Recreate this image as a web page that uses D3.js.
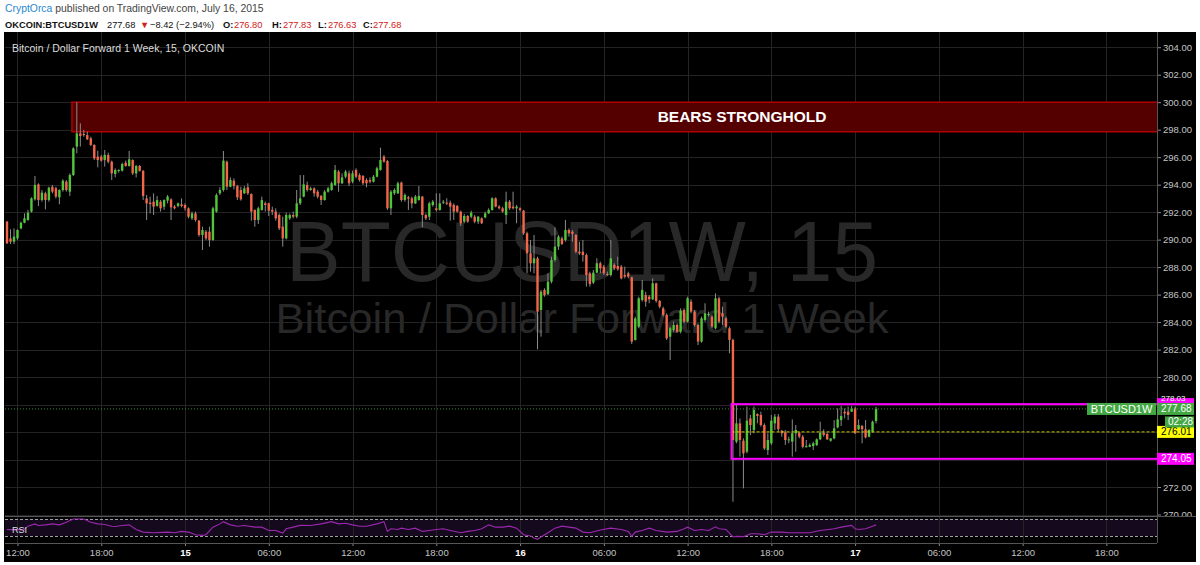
<!DOCTYPE html>
<html>
<head>
<meta charset="utf-8">
<title>BTCUSD1W, 15</title>
<script src="https://cdn.jsdelivr.net/npm/d3@7/dist/d3.min.js"></script>
<style>
  body { margin: 0; background: #fff; }
  svg { display: block; }
</style>
</head>
<body>
<script>
// 15 minute bars, bar 0 = Jul 14 12:00, first bar in the list is bar -3 (11:15)
var firstBar = -3;
// [open, high, low, close]
var candles = [
  [291.31,291.36,289.68,289.73],[290.09,290.75,289.68,289.85],[289.85,290.82,289.68,290.22],[290.09,290.75,289.97,290.70],[290.82,291.31,290.75,291.23],
  [291.23,291.91,291.19,291.55],[291.43,292.16,291.38,291.96],[292.04,293.08,291.96,293.00],[292.93,294.63,292.84,293.98],[294.02,294.10,292.45,292.88],
  [292.88,293.61,292.76,293.42],[293.37,293.49,292.20,292.88],[292.88,293.85,292.76,293.78],[293.85,293.98,293.37,293.49],[293.73,293.85,293.00,293.13],
  [293.08,293.66,292.57,293.61],[293.61,294.39,293.49,294.29],[294.22,294.34,293.49,293.61],[293.49,294.82,293.18,294.70],[294.70,296.72,294.63,296.64],
  [296.77,300.00,296.28,297.73],[297.73,298.46,296.77,297.54],[297.69,297.98,297.49,297.61],[297.61,297.86,297.25,297.30],[297.37,297.49,296.81,296.89],
  [296.89,296.94,295.79,295.91],[296.04,296.47,295.26,295.79],[296.04,296.16,295.67,295.75],[295.79,296.52,295.31,296.16],[296.16,296.33,295.55,295.67],
  [295.67,295.75,294.34,294.82],[294.78,295.19,294.53,295.07],[295.02,295.12,294.87,295.07],[295.02,295.60,294.95,295.50],[295.60,295.75,295.31,295.36],
  [295.36,296.45,295.31,295.84],[295.79,295.84,294.70,294.82],[294.82,295.43,294.53,295.36],[295.36,295.43,294.95,295.00],[295.00,295.07,292.88,293.18],
  [293.00,293.25,291.43,292.64],[292.69,293.13,291.91,292.59],[292.76,293.37,291.79,292.40],[292.45,293.18,292.40,292.88],[292.76,292.88,292.04,292.28],
  [292.40,292.93,292.16,292.88],[292.84,293.25,292.64,293.13],[292.93,293.00,291.43,292.35],[292.40,292.52,292.20,292.28],[292.45,292.69,292.35,292.64],
  [292.57,293.00,292.35,292.45],[292.52,292.64,292.11,292.28],[292.28,292.35,291.55,291.67],[291.55,292.04,291.43,291.91],[291.91,292.04,291.31,291.43],
  [291.38,291.43,290.22,290.34],[290.34,290.94,289.25,290.70],[290.58,290.70,289.97,290.09],[290.58,290.94,289.49,289.97],[289.97,292.40,289.92,292.28],
  [292.04,293.37,291.96,293.25],[293.37,293.81,293.25,293.61],[293.61,296.45,293.49,295.75],[295.67,295.75,293.61,293.85],[293.85,294.53,293.81,294.34],
  [294.29,294.46,293.66,293.90],[293.90,293.98,292.88,293.08],[293.61,293.85,292.84,292.93],[293.37,293.90,293.32,293.73],[293.81,294.10,293.25,293.37],
  [293.32,293.37,291.38,292.04],[292.16,292.20,290.94,291.43],[291.43,292.40,291.14,292.28],[292.16,293.13,292.11,292.88],[292.64,292.76,292.04,292.52],
  [292.64,292.69,291.72,292.11],[292.16,292.40,291.79,292.04],[292.04,292.28,291.38,291.55],[291.79,291.91,290.70,290.82],[290.94,291.67,289.49,290.09],
  [290.09,291.96,290.02,291.79],[291.55,291.91,291.43,291.79],[291.79,292.04,291.55,291.67],[291.67,293.61,291.55,292.64],[292.64,294.70,292.52,293.00],
  [293.13,294.70,293.08,294.02],[293.98,294.22,293.49,293.61],[293.61,293.85,293.56,293.73],[293.73,293.81,293.13,293.37],[293.49,293.61,293.00,293.13],
  [293.18,293.25,292.52,292.88],[292.88,293.61,292.84,293.49],[293.49,293.85,293.42,293.73],[293.61,294.22,293.56,294.10],[293.98,295.43,293.90,295.07],
  [294.95,295.07,293.49,294.10],[294.10,294.82,294.05,294.53],[294.58,295.07,294.46,294.95],[294.82,295.02,293.90,294.10],[294.22,295.02,294.10,294.82],
  [295.07,295.19,294.46,294.58],[294.70,294.82,294.22,294.34],[294.63,294.70,293.98,294.10],[294.34,294.46,293.81,294.10],[294.34,294.53,294.10,294.22],
  [294.22,294.70,294.15,294.58],[294.58,295.31,294.53,295.19],[295.07,296.69,295.02,295.79],[296.04,296.16,295.60,295.67],[295.72,295.79,292.16,292.28],
  [292.28,293.61,291.79,293.49],[293.37,293.73,293.25,293.61],[293.37,294.22,293.32,294.10],[294.15,294.22,292.76,292.88],[292.88,293.37,292.76,293.25],
  [293.08,293.18,292.16,292.98],[293.01,293.13,292.28,292.64],[292.64,293.25,292.59,293.13],[292.88,293.90,292.84,293.18],[293.13,293.18,290.90,291.79],
  [291.79,291.91,291.43,291.55],[291.67,292.76,291.43,292.64],[292.52,292.88,292.40,292.76],[292.28,293.37,292.04,292.16],[292.16,293.37,292.11,292.64],
  [292.69,292.88,292.59,292.76],[292.69,293.01,292.52,292.64],[292.69,292.84,291.38,292.40],[292.52,292.64,291.43,292.04],[292.45,292.52,291.96,292.04],
  [292.04,292.11,290.99,291.19],[291.31,291.87,291.19,291.72],[291.72,291.79,291.23,291.31],[291.67,292.11,291.55,291.96],[291.67,291.79,291.19,291.31],
  [291.31,291.72,291.14,291.67],[291.55,291.62,291.14,291.19],[291.62,292.04,291.55,291.91],[291.91,292.28,291.87,292.16],[292.16,293.08,292.11,293.01],
  [293.01,293.08,292.35,292.40],[292.40,292.52,292.20,292.28],[292.28,292.40,291.96,292.04],[291.79,293.49,291.14,292.76],[292.76,292.88,292.16,292.28],
  [292.40,293.49,292.20,292.28],[292.28,292.52,291.19,292.40],[292.28,292.35,292.04,292.16],[292.11,292.16,290.34,290.46],[290.46,290.58,287.55,289.00],
  [289.00,289.97,287.67,288.28],[288.28,290.34,287.55,288.64],[288.64,288.76,282.02,284.76],[284.88,286.34,282.94,286.21],[286.34,286.46,285.85,285.97],
  [286.04,287.55,285.97,286.94],[286.94,288.76,286.82,288.52],[288.52,290.90,288.40,289.49],[289.49,290.34,289.25,290.22],[290.09,290.22,289.61,289.68],
  [289.97,291.43,289.85,290.70],[290.70,290.82,290.22,290.46],[290.58,290.70,289.85,290.41],[290.34,290.41,289.00,289.12],[289.12,289.85,288.88,289.00],
  [289.12,289.97,288.40,288.88],[288.88,289.00,286.58,287.43],[287.55,287.67,286.58,286.77],[286.87,287.79,286.77,287.60],[287.60,288.64,287.55,288.28],
  [288.28,288.40,287.55,287.91],[288.03,288.16,287.43,287.55],[287.50,287.67,287.35,287.45],[287.43,289.97,287.31,288.64],[288.16,288.28,287.79,287.91],
  [288.08,288.76,287.74,287.84],[288.03,288.16,287.11,287.18],[287.43,288.03,287.18,287.31],[287.55,287.67,287.18,287.31],[287.26,287.31,282.41,282.58],
  [282.70,284.40,282.65,284.27],[283.67,285.85,283.55,285.73],[285.61,287.06,285.49,286.34],[285.97,286.21,285.12,285.49],[285.85,285.97,285.37,285.66],
  [285.66,287.18,285.61,286.82],[286.82,286.87,285.41,285.54],[285.54,285.61,285.00,285.12],[285.00,285.12,284.40,284.52],[284.52,284.64,282.70,282.82],
  [282.94,283.67,281.24,283.55],[283.43,284.03,283.30,283.79],[283.79,283.91,283.23,283.30],[283.30,285.00,283.18,284.83],[284.88,285.00,283.91,284.03],
  [284.03,285.85,283.96,285.73],[285.49,285.66,284.64,284.76],[284.76,284.88,283.67,283.79],[283.79,283.91,282.33,282.58],[282.58,284.40,282.50,284.27],
  [284.15,285.37,284.03,284.64],[284.52,284.76,284.40,284.59],[284.40,284.52,283.55,283.67],[283.55,286.09,283.47,285.73],[285.73,285.85,283.91,284.03],
  [284.64,285.12,283.79,284.40],[284.27,284.40,283.55,283.67],[283.55,283.67,281.73,282.70],[282.70,282.80,270.93,275.42],[275.30,277.97,275.18,276.63],
  [276.63,276.99,274.21,275.42],[275.37,275.54,271.90,274.45],[274.57,277.85,274.45,276.83],[276.99,277.24,275.78,276.51],[276.15,277.85,275.91,277.60],
  [277.31,277.36,276.63,277.17],[277.24,277.48,276.39,276.51],[276.51,276.63,274.69,274.81],[274.69,275.91,274.33,275.42],[275.18,277.24,275.06,276.83],
  [276.63,277.31,276.15,277.12],[277.12,277.31,276.03,276.20],[276.10,276.15,275.66,275.91],[275.98,276.15,275.06,275.42],[275.42,275.66,275.18,275.47],
  [275.30,276.92,274.21,275.91],[275.91,276.51,274.57,276.15],[275.95,276.03,275.54,275.66],[275.66,275.78,274.81,274.93],[274.89,275.42,274.89,274.98],
  [274.93,275.18,274.89,275.06],[274.98,275.30,274.69,275.18],[275.06,275.54,274.98,275.47],[275.47,276.75,275.42,275.95],[275.95,276.20,275.66,275.78],
  [275.86,275.95,275.42,275.47],[275.37,275.54,275.30,275.54],[275.54,276.87,275.47,276.27],[276.34,277.72,276.27,276.92],[276.87,277.89,276.44,277.17],
  [277.48,277.72,276.99,277.36],[277.48,277.85,276.87,277.24],[277.48,277.89,277.48,277.72],[277.72,277.85,275.86,275.91],[276.20,276.92,276.15,276.51],
  [276.44,276.51,275.18,276.20],[276.20,276.87,275.54,275.61],[275.66,276.20,275.61,276.15],[276.03,276.83,275.95,276.75],[276.80,277.83,276.63,277.68]
];

// RSI: [bar, value]
var rsiPoints = [
  [-3,45.4],[0,44.5],[2,46],[3,53.1],[5,58.5],[6,54.6],[8,56.2],[10,58.5],[12,56.2],[14,62.3],[16,70],[19,70],[21,62.3],[23,58.5],
  [25,56.9],[27,53.1],[28,52.3],[30,54.6],[32,56.2],[34,45.4],[36,39.2],[39,37.7],[43,39.2],[45,37.7],[47,40.8],[49,39.2],[51,33.1],
  [53,31.5],[54,33.1],[56,50.8],[58,58.5],[59,63.8],[61,56.2],[63,53.1],[65,54.6],[68,50.8],[70,50.8],[72,43.1],[74,43.1],[76,36.9],
  [77,46.9],[79,50.8],[81,55],[84,54.6],[87,58.5],[90,63.8],[92,58.5],[94,60],[96,56.2],[98,53.1],[100,53.1],[103,58.5],[105,63.8],
  [106,40.8],[107,46.9],[109,45.4],[110,48.5],[112,45.4],[114,48.5],[116,40.8],[118,43.1],[120,45.4],[122,46.9],[124,43.1],[127,37.7],
  [129,40.8],[131,43.1],[133,46.9],[135,56.2],[137,50.8],[139,50.8],[141,53.1],[143,48.5],[145,33.1],[147,30],[148,25.4],[149,22.3],
  [150,27.7],[152,37.7],[154,48.5],[156,53.1],[158,50.8],[160,48.5],[162,39.2],[164,37.7],[167,44],[170,48.5],[173,45.4],[175,40.8],
  [176,29.2],[177,39.2],[179,43.1],[181,48.5],[183,43.1],[186,39.2],[189,40.8],[191,46.9],[192,50.8],[194,43.1],[196,45.4],[198,43.1],
  [200,51.5],[201,46.9],[203,45.4],[205,27.7],[206,29.2],[208,28.5],[210,35.4],[212,35.4],[214,33.1],[216,39.2],[219,39.2],[221,37.7],
  [224,37.7],[227,37.7],[230,43.1],[234,46.9],[236,50.8],[239,55],[240,47],[241,45.4],[243,46.9],[245,53.1],[246,56.2]
];

var priceTicks = [270, 272, 274, 276, 278, 280, 282, 284, 286, 288, 290, 292, 294, 296, 298, 300, 302, 304];
var timeTicks = [0, 24, 48, 72, 96, 120, 144, 168, 192, 216, 240, 264, 288, 312];
var timeLabels = ["12:00", "18:00", "15", "06:00", "12:00", "18:00", "16", "06:00", "12:00", "18:00", "17", "06:00", "12:00", "18:00"];
var dayLabels = ["15", "16", "17"];

// drawings
var bearsZone = [297.85, 300.0], bearsZoneStart = 15.6;
var rangeBox = [274.05, 278.03], rangeBoxStart = 204.6;
var midLevel = 276.01;
var lastPrice = 277.68, change = -8.42, changePct = -2.94, countdown = "02:28";
var symbol = "BTCUSD1W";

var W = 1200, H = 565;
var pane = {left: 5, right: 1157, top: 32, bottom: 516};
var axisY = 543;
var font = '"Liberation Sans", Arial, sans-serif';

var svg = d3.select("body").append("svg")
    .attr("width", W)
    .attr("height", H)
    .style("font-family", font);

var x = d3.scaleLinear().domain([-3.58, 326.5]).range([pane.left, pane.right]);
var y = d3.scaleLinear().domain([270, 300]).range([514.5, 102.2]);
var yR = d3.scaleLinear().domain([30, 70]).range([536, 519]);

// chart background
svg.append("rect")
    .attr("x", 4).attr("y", 32)
    .attr("width", 1192).attr("height", 530)
    .attr("fill", "#000");

// price axis; tick labels hidden under the price tags are left out
var tagLevels = [rangeBox[1], lastPrice, midLevel, rangeBox[0]];
var yAxis = svg.append("g")
    .attr("transform", "translate(" + pane.right + ",0)")
    .call(d3.axisRight(y).tickValues(priceTicks).tickFormat(d3.format(".2f")).tickSize(4).tickPadding(2));
yAxis.select(".domain").remove();
yAxis.selectAll("line").attr("stroke", "#888");
yAxis.selectAll("text").attr("fill", "#c4c4c4").attr("font-size", 9.5).attr("font-family", font);
yAxis.selectAll(".tick").filter(function(d) {
  return tagLevels.some(function(v) { return Math.abs(y(v) - y(d)) < 11; });
}).select("text").remove();

// RSI pane covers the bottom of the axis
svg.append("rect")
    .attr("x", 4).attr("y", pane.bottom)
    .attr("width", 1192).attr("height", axisY - pane.bottom)
    .attr("fill", "#000");
svg.append("rect")
    .attr("x", pane.left).attr("y", yR(70))
    .attr("width", pane.right - pane.left).attr("height", yR(30) - yR(70))
    .attr("fill", "#150a1d");

// grid
var grid = svg.append("g");
grid.selectAll(".gh").data(priceTicks).join("line")
    .attr("class", "gh")
    .attr("x1", pane.left).attr("x2", pane.right)
    .attr("y1", function(d) { return Math.round(y(d)) + 0.5; })
    .attr("y2", function(d) { return Math.round(y(d)) + 0.5; })
    .attr("stroke", "#242424");
grid.selectAll(".gv").data(timeTicks).join("line")
    .attr("class", "gv")
    .attr("x1", function(d) { return Math.round(x(d)) + 0.5; })
    .attr("x2", function(d) { return Math.round(x(d)) + 0.5; })
    .attr("y1", pane.top).attr("y2", axisY)
    .attr("stroke", "#242424");

// watermark
var cx = (pane.left + pane.right) / 2 + 1;
svg.append("text")
    .attr("x", cx).attr("y", 281)
    .attr("text-anchor", "middle")
    .attr("font-size", 86)
    .attr("textLength", 592).attr("lengthAdjust", "spacingAndGlyphs")
    .attr("fill", "#282828")
    .text(symbol + ", 15");
svg.append("text")
    .attr("x", cx).attr("y", 333)
    .attr("text-anchor", "middle")
    .attr("font-size", 42)
    .attr("textLength", 613).attr("lengthAdjust", "spacingAndGlyphs")
    .attr("fill", "#282828")
    .text("Bitcoin / Dollar Forward 1 Week");

// clip for the price pane
svg.append("clipPath").attr("id", "pane")
  .append("rect")
    .attr("x", pane.left).attr("y", pane.top)
    .attr("width", pane.right - pane.left).attr("height", pane.bottom - pane.top);

var plot = svg.append("g").attr("clip-path", "url(#pane)");

// bears stronghold zone
plot.append("rect")
    .attr("x", x(bearsZoneStart))
    .attr("y", y(bearsZone[1]))
    .attr("width", pane.right - x(bearsZoneStart) + 2)
    .attr("height", y(bearsZone[0]) - y(bearsZone[1]))
    .attr("fill", "#540000")
    .attr("stroke", "#b00000")
    .attr("stroke-width", 1.5);
plot.append("text")
    .attr("x", x(207.6))
    .attr("y", (y(bearsZone[0]) + y(bearsZone[1])) / 2 + 5.5)
    .attr("text-anchor", "middle")
    .attr("font-size", 15.5)
    .attr("font-weight", "bold")
    .attr("fill", "#fff")
    .text("BEARS STRONGHOLD");

// candles
var bw = 2.4;
var bars = plot.selectAll(".bar").data(candles).join("g").attr("class", "bar");
bars.append("line")
    .attr("x1", function(d, i) { return x(firstBar + i); })
    .attr("x2", function(d, i) { return x(firstBar + i); })
    .attr("y1", function(d) { return y(d[1]); })
    .attr("y2", function(d) { return y(d[2]); })
    .attr("stroke", "#8c8c8c");
bars.append("rect")
    .attr("x", function(d, i) { return x(firstBar + i) - bw / 2; })
    .attr("width", bw)
    .attr("y", function(d) { return y(Math.max(d[0], d[3])); })
    .attr("height", function(d) { return Math.max(1, Math.abs(y(d[0]) - y(d[3]))); })
    .attr("fill", function(d) { return d[3] >= d[0] ? "#53c53b" : "#f2674a"; });

// range box, mid level, last price line
plot.append("line")
    .attr("x1", pane.left).attr("x2", pane.right)
    .attr("y1", y(lastPrice)).attr("y2", y(lastPrice))
    .attr("stroke", "#2f8a2f").attr("stroke-dasharray", "1,2");
plot.append("line")
    .attr("x1", x(rangeBoxStart)).attr("x2", pane.right)
    .attr("y1", y(midLevel)).attr("y2", y(midLevel))
    .attr("stroke", "#c8c800").attr("stroke-dasharray", "3,2");
plot.append("rect")
    .attr("x", x(rangeBoxStart))
    .attr("y", y(rangeBox[1]))
    .attr("width", pane.right - x(rangeBoxStart) + 2)
    .attr("height", y(rangeBox[0]) - y(rangeBox[1]))
    .attr("fill", "none")
    .attr("stroke", "#ff00ff")
    .attr("stroke-width", 2);

// chart title
svg.append("text")
    .attr("x", 12).attr("y", 51.5)
    .attr("font-size", 10.5)
    .attr("fill", "#dcdcdc")
    .text("Bitcoin / Dollar Forward 1 Week, 15, OKCOIN");

// RSI pane lines
svg.append("line")
    .attr("x1", pane.left).attr("x2", W - 4)
    .attr("y1", pane.bottom + 0.5).attr("y2", pane.bottom + 0.5)
    .attr("stroke", "#555");
svg.selectAll(".band").data([70, 30]).join("line")
    .attr("class", "band")
    .attr("x1", pane.left).attr("x2", pane.right)
    .attr("y1", function(d) { return Math.round(yR(d)) + 0.5; })
    .attr("y2", function(d) { return Math.round(yR(d)) + 0.5; })
    .attr("stroke", "#a0a0a0")
    .attr("stroke-dasharray", "3,2");
svg.append("path")
    .datum(rsiPoints)
    .attr("fill", "none")
    .attr("stroke", "#9c27b0")
    .attr("stroke-width", 1.1)
    .attr("d", d3.line()
        .x(function(d) { return x(d[0]); })
        .y(function(d) { return yR(d[1]); }));
svg.append("text")
    .attr("x", 12).attr("y", 533)
    .attr("font-size", 9)
    .attr("fill", "#ddd")
    .text("RSI");

// time axis
var xAxis = svg.append("g")
    .attr("transform", "translate(0," + axisY + ")")
    .call(d3.axisBottom(x).tickValues(timeTicks)
        .tickFormat(function(d, i) { return timeLabels[i]; })
        .tickSize(3).tickPadding(1));
xAxis.select(".domain").remove();
xAxis.selectAll("line").attr("stroke", "#888");
xAxis.selectAll("text")
    .attr("font-family", font)
    .attr("font-size", 9.5)
    .attr("dy", "0.9em")
    .attr("fill", function(d, i) { return dayLabels.indexOf(timeLabels[i]) >= 0 ? "#fff" : "#c4c4c4"; })
    .attr("font-weight", function(d, i) { return dayLabels.indexOf(timeLabels[i]) >= 0 ? "bold" : "normal"; });

svg.append("line")
    .attr("x1", pane.left).attr("x2", pane.right)
    .attr("y1", axisY + 0.5).attr("y2", axisY + 0.5)
    .attr("stroke", "#555");
svg.append("line")
    .attr("x1", pane.right + 0.5).attr("x2", pane.right + 0.5)
    .attr("y1", pane.top).attr("y2", axisY)
    .attr("stroke", "#555");

// price labels on the axis
function axisLabel(v, bg, fg, x0, w, size, dy) {
  var g = svg.append("g");
  g.append("rect")
      .attr("x", x0).attr("y", y(v) - 6)
      .attr("width", w).attr("height", 12)
      .attr("fill", bg);
  g.append("text")
      .attr("x", x0 + 4).attr("y", y(v) + dy)
      .attr("font-size", size)
      .attr("fill", fg)
      .text(v.toFixed(2));
}
// the box top label sits mostly under the last price label
axisLabel(rangeBox[1], "#ff00ff", "#fff", pane.right, 37, 8, -3.2);
axisLabel(lastPrice, "#43a843", "#fff", pane.right, 37, 10, 3.5);
axisLabel(midLevel, "#ffff00", "#000", pane.right, 37, 10, 3.5);
axisLabel(rangeBox[0], "#ff00ff", "#fff", pane.right, 37, 10, 3.5);

// countdown under last price
svg.append("rect")
    .attr("x", 1165).attr("y", y(lastPrice) + 7.5)
    .attr("width", 29).attr("height", 11)
    .attr("fill", "#43a843");
svg.append("text")
    .attr("x", 1168).attr("y", y(lastPrice) + 16.5)
    .attr("font-size", 10)
    .attr("fill", "#fff")
    .text(countdown);

// symbol tag left of axis
svg.append("rect")
    .attr("x", 1087).attr("y", y(lastPrice) - 6)
    .attr("width", 69).attr("height", 12)
    .attr("fill", "#43a843");
svg.append("text")
    .attr("x", 1121.5).attr("y", y(lastPrice) + 4)
    .attr("text-anchor", "middle")
    .attr("font-size", 11)
    .attr("fill", "#fff")
    .text(symbol);

// header
var last = candles[candles.length - 1];
var head1 = svg.append("text")
    .attr("x", 5).attr("y", 12)
    .attr("font-size", 10.4);
head1.append("tspan").attr("fill", "#2a89cf").text("CryptOrca");
head1.append("tspan").attr("fill", "#444").text(" published on TradingView.com, July 16, 2015");

var fmt = d3.format(".2f");
var head2 = [
  {t: "OKCOIN:" + symbol, x: 5, c: "#111", b: true},
  {t: fmt(lastPrice), x: 107, c: "#111"},
  {t: "\u25BC", x: 140, c: "#d32020"},
  {t: "\u2212" + fmt(-change) + " (\u2212" + fmt(-changePct) + "%)", x: 150, c: "#111"},
  {t: "O:", x: 223, c: "#111", b: true},
  {t: fmt(last[0]), x: 234, c: "#d32020"},
  {t: "H:", x: 272, c: "#111", b: true},
  {t: fmt(last[1]), x: 283, c: "#d32020"},
  {t: "L:", x: 318, c: "#111", b: true},
  {t: fmt(last[2]), x: 328, c: "#d32020"},
  {t: "C:", x: 363, c: "#111", b: true},
  {t: fmt(last[3]), x: 373, c: "#d32020"}
];
svg.selectAll(".h2").data(head2).join("text")
    .attr("class", "h2")
    .attr("x", function(d) { return d.x; })
    .attr("y", 28)
    .attr("font-size", 9.3)
    .attr("font-weight", function(d) { return d.b ? "bold" : "normal"; })
    .attr("fill", function(d) { return d.c; })
    .text(function(d) { return d.t; });
</script>
</body>
</html>
